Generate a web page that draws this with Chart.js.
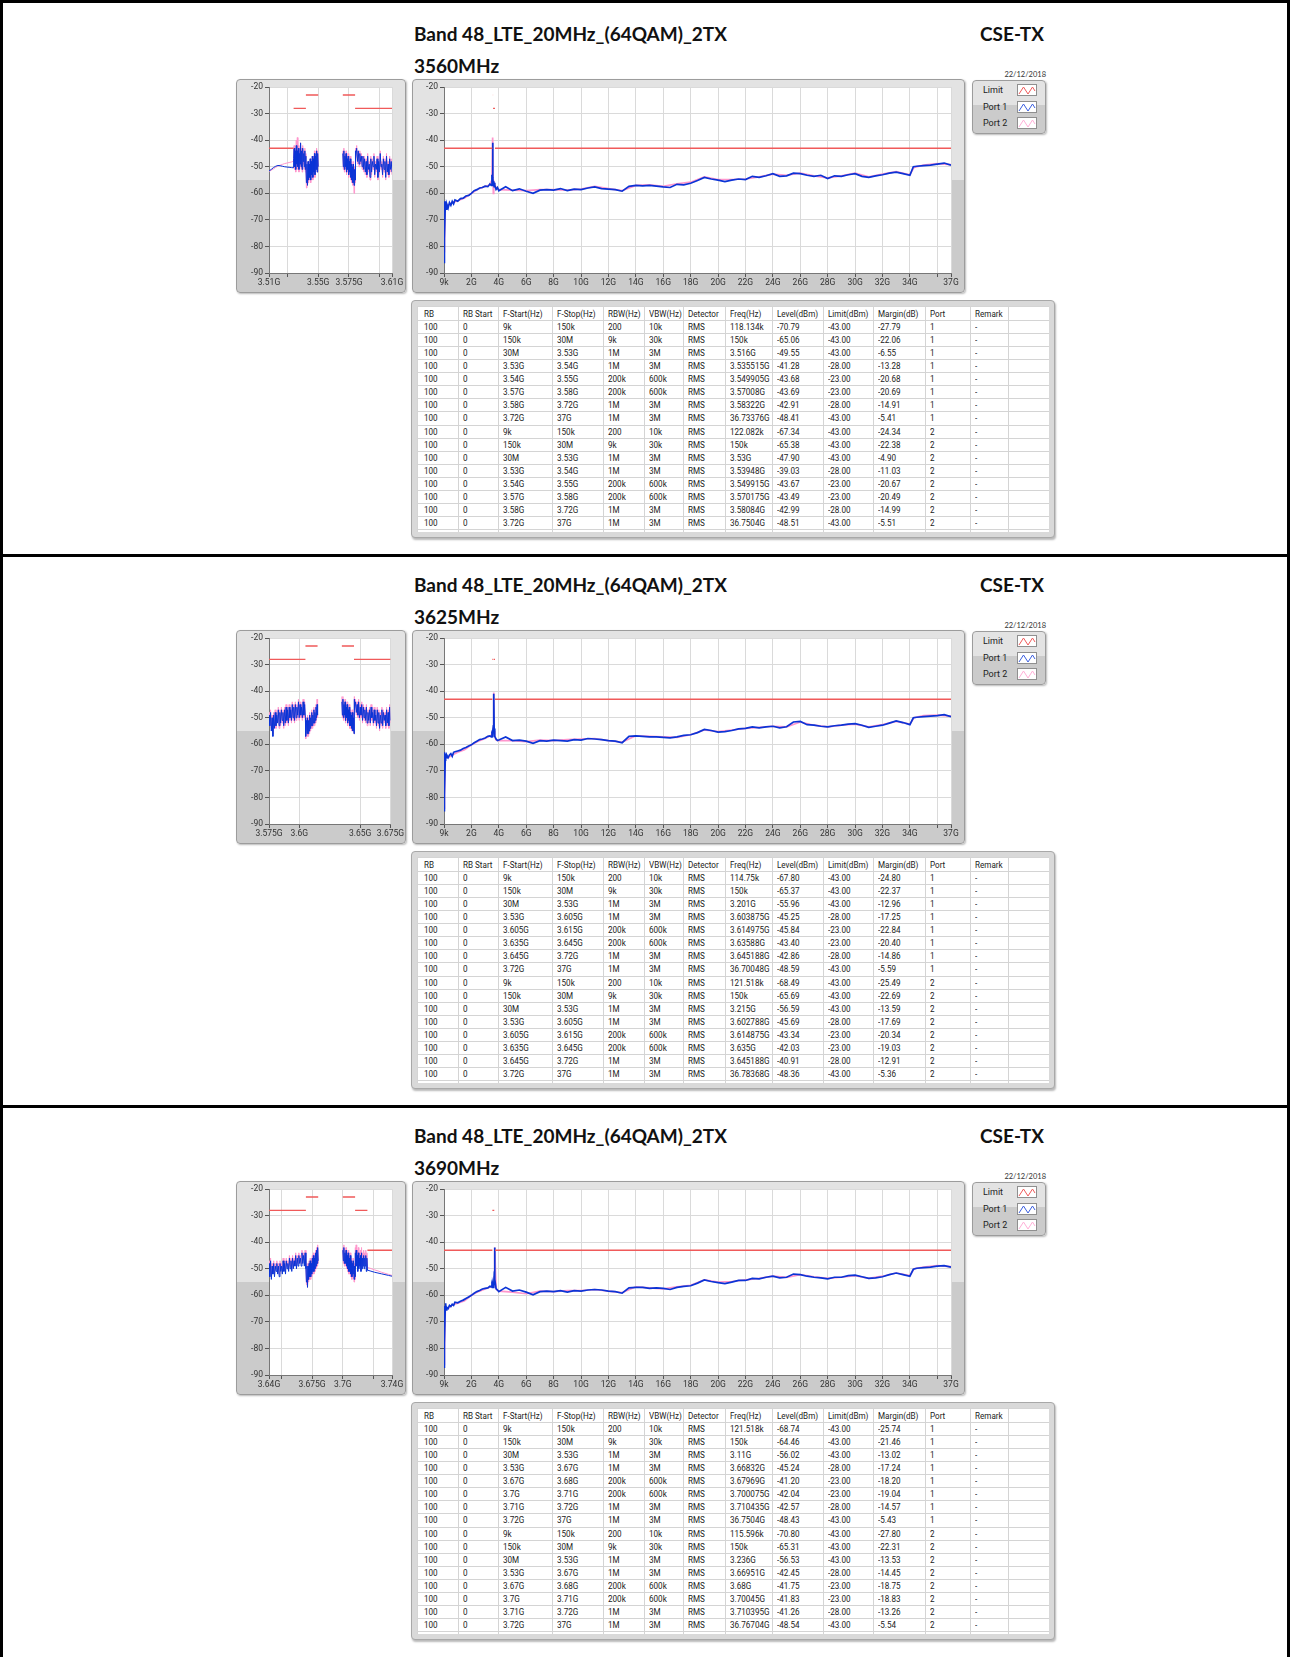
<!DOCTYPE html>
<html>
<head>
<meta charset="utf-8">
<script src="https://cdn.jsdelivr.net/npm/chart.js@4.4.0/dist/chart.umd.min.js"></script>
<style>
html,body{margin:0;padding:0;background:#fff;}
body{width:1290px;height:1657px;position:relative;overflow:hidden;font-family:Roboto,"DejaVu Sans",sans-serif;}
.bar{position:absolute;background:#000;}
.title{position:absolute;font-family:Lato,"Open Sans",sans-serif;font-weight:700;font-size:19px;line-height:19px;color:#111;white-space:nowrap;}
.date{position:absolute;font-family:Lato,sans-serif;font-size:7.5px;line-height:8px;color:#333;white-space:nowrap;text-align:right;width:60px;}
.cpanel{position:absolute;box-sizing:border-box;border:1px solid #9c9c9c;border-radius:4px;
  background:linear-gradient(#e3e3e3 0,#e3e3e3 47%,#cbcbcb 47%,#cbcbcb 100%);box-shadow:1px 1px 2px rgba(0,0,0,.28);}
.cpanel canvas{position:absolute;left:0;top:0;}
.legend{position:absolute;box-sizing:border-box;border:1px solid #9c9c9c;border-radius:4px;
  background:linear-gradient(#e3e3e3 0,#e3e3e3 46%,#cbcbcb 46%,#cbcbcb 100%);box-shadow:1px 1px 2px rgba(0,0,0,.28);}
.legend .lt{position:absolute;left:10px;font-size:9px;line-height:10px;color:#222;}
.legend .sw{position:absolute;left:44px;width:20px;height:12px;box-sizing:border-box;background:#fff;border:1px solid #8f8f8f;}
.tpanel{position:absolute;box-sizing:border-box;border:1px solid #a8a8a8;border-radius:4px;background:#d9d9d9;box-shadow:1px 2px 2px rgba(0,0,0,.28);}
.tin{position:absolute;left:5px;top:5px;width:632px;height:226px;background:#fff;overflow:hidden;}
.tin table{border-collapse:collapse;table-layout:fixed;width:632px;font-size:9px;color:#1b1b1b;}
.tin td{border:1px solid #d4d4d4;padding:0 0 0 4px;line-height:10px;white-space:nowrap;overflow:hidden;}
.tin td span{display:inline-block;transform:scaleX(0.9);transform-origin:0 50%;}
.tin tr{height:13.07px;}
.tin tr.h{height:14px;}
</style>
</head>
<body>
<script>
// ---------------- shared axes ----------------
const Y_TICKS  = [-90,-80,-70,-60,-50,-40,-30,-20];
const Y_LABELS = ["-90","-80","-70","-60","-50","-40","-30","-20"];
const MAIN_TICKS  = [0.000009,2,4,6,8,10,12,14,16,18,20,22,24,26,28,30,32,34,36,37];
const MAIN_LABELS = ["9k","2G","4G","6G","8G","10G","12G","14G","16G","18G","20G","22G","24G","26G","28G","30G","32G","34G","","37G"];

// ---------------- section headings ----------------
const TITLE = "Band 48_LTE_20MHz_(64QAM)_2TX";
const TEST_NAME = "CSE-TX";
const DATE = "22/12/2018";
const SECTION_FREQ = ["3560MHz","3625MHz","3690MHz"];
const LEGEND_NAMES = ["Limit","Port 1","Port 2"];

// ---------------- zoom charts x axes ----------------
const S1_ZOOM_TICKS  = [3.51,3.525,3.55,3.575,3.6,3.61];
const S1_ZOOM_LABELS = ["3.51G","","3.55G","3.575G","","3.61G"];
const S2_ZOOM_TICKS  = [3.575,3.6,3.65,3.675];
const S2_ZOOM_LABELS = ["3.575G","3.6G","3.65G","3.675G"];
const S3_ZOOM_TICKS  = [3.64,3.65,3.675,3.7,3.725,3.74];
const S3_ZOOM_LABELS = ["3.64G","","3.675G","3.7G","","3.74G"];

// ---------------- limit lines [fStart GHz, fStop GHz, dBm] ----------------
const S1_LIMIT = [[0.000009,3.53,-43],[3.53,3.54,-28],[3.54,3.55,-23],[3.57,3.58,-23],[3.58,3.72,-28],[3.72,37,-43]];
const S2_LIMIT = [[0.000009,3.53,-43],[3.53,3.605,-28],[3.605,3.615,-23],[3.635,3.645,-23],[3.645,3.72,-28],[3.72,37,-43]];
const S3_LIMIT = [[0.000009,3.53,-43],[3.53,3.67,-28],[3.67,3.68,-23],[3.70,3.71,-23],[3.71,3.72,-28],[3.72,37,-43]];

// ---------------- full span sweep (GHz) ----------------
const MAIN_F = [0.000009,0.005,0.02,0.04,0.06,0.09,0.12,0.16,0.2,0.3,
 0.4,0.5,0.6,0.7,0.8,1.0,1.2,1.4,1.6,1.8,
 2.0,2.2,2.4,2.6,2.8,3.0,3.2,3.35,3.45,3.5,
 3.53,3.55,3.57,3.6,3.63,3.66,3.69,3.72,3.8,3.9,
 4.0,4.5,5.0,5.5,6.0,6.5,7.0,7.5,8.0,8.5,
 9.0,9.5,10.0,10.5,11.0,11.5,12.0,12.5,13.0,13.5,
 14.0,14.5,15.0,15.5,16.0,16.5,17.0,17.5,18.0,18.5,
 19.0,19.5,20.0,20.5,21.0,21.5,22.0,22.5,23.0,23.5,
 24.0,24.5,25.0,25.5,26.0,26.5,27.0,27.5,28.0,28.5,
 29.0,29.5,30.0,30.5,31.0,31.5,32.0,32.5,33.0,33.5,
 34.0,34.25,34.5,35.0,35.5,36.0,36.5,37.0];
const MAIN_F2 = [0.000009,0.03,0.1,0.3,0.6,1,1.5,2,2.5,3,
 3.3,3.5,3.55,3.6,3.63,3.66,3.7,3.8,4,5,
 6,7,8,9,10,11,12,13,14,15,
 16,17,18,19,20,21,22,23,24,25,
 26,27,28,29,30,31,32,33,34,34.3,
 35,36,37];

const S1_MAIN_P1 = [-86,-66,-84,-63,-77,-65,-63,-66,-64,-65.5,
 -63.5,-64.5,-63,-64,-62.5,-63,-62,-61.8,-61,-60.8,
 -60,-59,-58.6,-58,-57.8,-57.3,-57.5,-56.5,-57,-53,
 -56,-41,-54,-57,-55.5,-57.5,-56,-57,-58.5,-57.8,
 -59,-57.5,-59,-58.3,-59.2,-60,-58.8,-58.6,-58.8,-58.2,
 -59,-58.4,-58.6,-58,-57.6,-58.2,-58.4,-58.6,-59.2,-57.4,
 -57,-57.2,-57,-57.3,-57.6,-57.8,-56.6,-56.8,-56.2,-55.2,
 -54,-54.6,-55,-55.6,-55,-54.6,-54.8,-53.6,-54,-53.4,
 -52.6,-53.6,-53.4,-52.4,-52.6,-53.2,-53.6,-53.2,-54.4,-53.4,
 -53.6,-53,-52.6,-53.6,-54,-53.4,-53,-52.4,-52,-52.6,
 -53.2,-50,-49.8,-49.6,-49.4,-49,-48.6,-49.4];
const S1_MAIN_P2 = [-82,-79,-64,-64.5,-63.5,-62.8,-61.8,-60,-58.4,-57.4,
 -57,-55,-39,-60,-56,-57,-56.5,-58,-58.6,-58.8,
 -59,-58.6,-58.6,-58.8,-58.4,-57.4,-58.2,-59,-57,-56.8,
 -57.4,-56.4,-55.8,-53.8,-54.8,-54.8,-54.6,-53.8,-52.8,-53.2,
 -52.4,-53.4,-54.2,-53.4,-52.4,-53.8,-52.8,-51.8,-53,-50.2,
 -49.4,-48.8,-49.2];

const S2_MAIN_P1 = [-85,-65,-80,-63,-79,-66,-63.5,-65,-64,-65,
 -64,-63.5,-64.5,-63,-62.8,-62.5,-62.2,-61.6,-61.2,-60.6,
 -60.2,-59.4,-58.8,-58.2,-58,-57.6,-57,-56.8,-57.2,-56.5,
 -57,-56,-55,-53,-41,-54,-56,-57,-58,-58.6,
 -58.4,-57.2,-58.6,-58.4,-58.8,-59.6,-58.6,-58.8,-58.4,-58.6,
 -58.8,-58.2,-58.4,-57.8,-58,-58.2,-58.6,-58.8,-59.4,-57,
 -56.8,-57,-57.2,-57.2,-57.4,-57.6,-57.2,-56.6,-56.4,-55.6,
 -54.4,-54.8,-55.4,-55.2,-54.8,-54.2,-54,-53.4,-53.8,-53.4,
 -53.2,-53.8,-53.4,-51.6,-51.4,-52.6,-52.8,-53.2,-53.4,-53,
 -52.8,-52.4,-52.2,-52.8,-53.6,-53.2,-52.8,-52,-51.2,-51.8,
 -52.6,-50,-49.8,-49.6,-49.4,-49.2,-48.8,-49.6];
const S2_MAIN_P2 = [-84,-80,-64,-65,-64,-63,-62,-60.2,-58.8,-57.8,
 -57,-56.4,-55,-54,-40.5,-55,-57,-58.4,-58.6,-58.6,
 -59,-58.4,-58.6,-58.2,-58,-57.8,-58.6,-59.2,-56.8,-57,
 -57.2,-57.4,-56.4,-54.6,-55.2,-54.6,-54,-53.6,-53.2,-53.4,
 -51.6,-52.8,-53.4,-52.8,-52.4,-53.4,-52.6,-51.4,-52.4,-50,
 -49.2,-49,-49.4];

const S3_MAIN_P1 = [-87,-66,-82,-64,-78,-65,-63,-65.5,-64.5,-65,
 -63.8,-64.2,-63.4,-63.8,-62.6,-62.8,-62.2,-61.8,-61.2,-60.6,
 -60,-59.2,-58.6,-58.2,-57.6,-57.4,-57.2,-56.6,-56.8,-56.4,
 -57,-56.6,-56,-57,-56.4,-53,-42,-54,-57.5,-58,
 -58.6,-57,-58.4,-58,-58.8,-59.8,-58.6,-58.4,-58.6,-58.2,
 -58.8,-58.2,-58.4,-58,-57.8,-58,-58.4,-58.6,-59.2,-57.2,
 -57,-57,-57.4,-57.2,-57.4,-57.8,-57,-56.6,-56.4,-55.4,
 -54.2,-54.8,-55.2,-55.6,-55,-54.4,-54.4,-53.6,-53.8,-53.2,
 -52.8,-53.4,-53.2,-52,-52.2,-52.8,-53.2,-53.4,-53.8,-53.2,
 -53.2,-52.6,-52.4,-53,-53.6,-53.4,-53,-52.2,-51.6,-52.2,
 -52.8,-50.2,-49.8,-49.6,-49.4,-49,-48.8,-49.4];
const S3_MAIN_P2 = [-86,-81,-64.5,-65,-63.6,-63,-62,-60,-58.6,-57.6,
 -57,-56.6,-56.4,-56.8,-55.8,-53,-42,-57.6,-58.4,-58.8,
 -59.4,-58.4,-58.6,-58.2,-58.2,-57.8,-58.4,-59,-56.8,-57.2,
 -57.6,-56.8,-56.2,-54.2,-55,-54.8,-54.2,-53.6,-52.8,-53.2,
 -52.2,-53,-53.6,-53.2,-52.6,-53.6,-52.8,-51.6,-52.6,-50,
 -49.4,-48.8,-49.2];

// ---------------- zoom sweeps: [fStart GHz, fStop GHz, levels dBm] ----------------
const S1_ZOOM_P1 = [
 [3.51,3.53,[-51.6,-51.0,-50.3,-49.8,-49.5,-49.6,-49.8,-50.0,-50.1,-50.2,-50.3,-50.4]],
 [3.53,3.54,[-47,-43,-50,-44,-51,-42,-49,-44,-50,-43,-51,-45,-49,-41,-50,-44,-51,-43,-48,-45,-50,-44,-51,-46]],
 [3.54,3.55,[-50,-56,-49,-57,-48,-55,-49,-54,-47,-55,-48,-53,-46,-54,-47,-52,-45,-53,-46,-51,-44,-52,-45,-50]],
 [3.57,3.58,[-45,-50,-44,-51,-46,-50,-45,-52,-47,-51,-46,-53,-48,-52,-47,-54,-49,-55,-50,-56,-49,-57,-51,-55]],
 [3.58,3.61,[-44,-47,-43,-48,-44,-49,-45,-48,-46,-50,-46,-51,-47,-52,-48,-53,-46,-51,-49,-54,-47,-52,-48,-50,
   -46,-53,-49,-51,-47,-54,-48,-52,-45,-50,-49,-53,-47,-51,-48,-54,-46,-52,-49,-53,-47,-51,-48,-52]]];
const S1_ZOOM_P2 = [
 [3.51,3.53,[-51.8,-51.3,-50.8,-50.2,-49.7,-49.4,-49.1,-48.8,-48.6,-48.4,-48.2,-47.9]],
 [3.53,3.54,[-46,-42,-51,-43,-52,-40,-50,-39,-51,-42,-52,-44,-50,-41,-51,-43,-52,-42,-49,-44,-51,-43,-52,-45]],
 [3.54,3.55,[-51,-58,-50,-57,-48,-56,-49,-55,-47,-56,-48,-54,-46,-55,-46,-52,-44,-54,-45,-51,-43,-52,-44,-50]],
 [3.57,3.58,[-44,-51,-43,-52,-45,-51,-44,-53,-46,-52,-45,-54,-47,-53,-46,-55,-48,-56,-49,-57,-48,-60,-50,-56]],
 [3.58,3.61,[-43,-48,-42,-49,-44,-50,-44,-49,-45,-51,-46,-52,-46,-53,-47,-54,-45,-52,-48,-55,-46,-53,-47,-51,
   -45,-54,-48,-52,-46,-55,-47,-53,-44,-51,-48,-54,-46,-52,-47,-55,-45,-53,-48,-54,-46,-52,-47,-53]]];

const S2_ZOOM_P1 = [
 [3.575,3.605,[-49,-53,-48,-55,-50,-57,-49,-54,-48,-53,-49,-52,-47,-53,-48,-52,-47,-51,-48,-53,-47,-52,-46,-51,
   -47,-52,-46,-50,-47,-51,-45,-50,-46,-51,-45,-50,-46,-49,-44,-50,-45,-49,-46,-50,-44,-49,-45,-50]],
 [3.605,3.615,[-52,-57,-51,-56,-50,-56,-51,-55,-49,-54,-50,-53,-48,-53,-49,-52,-47,-52,-48,-51,-46,-50,-45,-49]],
 [3.635,3.645,[-44,-49,-43,-50,-45,-49,-44,-51,-46,-50,-45,-52,-47,-51,-46,-53,-48,-53,-49,-54,-48,-55,-50,-56]],
 [3.645,3.675,[-43,-47,-44,-48,-45,-49,-44,-50,-46,-49,-45,-51,-46,-50,-47,-51,-46,-52,-48,-51,-47,-52,-46,-50,
   -48,-52,-47,-51,-49,-53,-47,-52,-48,-54,-49,-52,-47,-53,-48,-51,-49,-53,-47,-52,-48,-53,-46,-51]]];
const S2_ZOOM_P2 = [
 [3.575,3.605,[-48,-53,-47,-54,-49,-56,-48,-53,-47,-54,-48,-52,-46,-54,-47,-53,-46,-52,-47,-54,-46,-53,-45,-52,
   -46,-53,-45,-51,-46,-52,-44,-51,-45,-52,-44,-51,-45,-50,-43,-51,-44,-50,-45,-51,-43,-50,-44,-51]],
 [3.605,3.615,[-51,-58,-50,-57,-49,-57,-50,-56,-48,-55,-49,-54,-47,-54,-48,-53,-46,-53,-47,-52,-45,-51,-43,-50]],
 [3.635,3.645,[-42,-50,-42,-51,-44,-50,-43,-52,-45,-51,-44,-53,-46,-52,-45,-54,-47,-54,-48,-55,-47,-55,-49,-56]],
 [3.645,3.675,[-42,-48,-43,-49,-44,-50,-43,-51,-45,-50,-44,-52,-45,-51,-46,-52,-45,-53,-47,-52,-46,-53,-45,-51,
   -47,-53,-46,-52,-48,-54,-46,-53,-47,-55,-48,-53,-46,-54,-47,-52,-48,-54,-46,-53,-47,-54,-45,-52]]];

const S3_ZOOM_P1 = [
 [3.64,3.67,[-48,-53,-47,-54,-49,-52,-48,-53,-49,-51,-48,-52,-49,-53,-48,-51,-49,-52,-47,-51,-48,-52,-47,-50,
   -48,-51,-46,-50,-47,-51,-46,-50,-47,-49,-45,-50,-46,-49,-45,-48,-46,-49,-44,-48,-45,-49,-44,-47]],
 [3.67,3.68,[-50,-55,-49,-57,-49,-54,-48,-53,-47,-53,-48,-52,-46,-51,-45,-51,-46,-50,-44,-49,-43,-48,-42,-47]],
 [3.70,3.71,[-43,-47,-42,-48,-44,-48,-43,-49,-45,-50,-44,-51,-46,-51,-45,-52,-47,-53,-48,-52,-47,-54,-49,-53]],
 [3.71,3.72,[-44,-50,-43,-49,-45,-51,-44,-50,-46,-49,-45,-51,-44,-50,-46,-49,-45,-50,-46,-49,-45,-51,-46,-50]],
 [3.72,3.74,[-50.5,-50.9,-51.3,-51.6,-51.9,-52.2,-52.5,-52.8]]];
const S3_ZOOM_P2 = [
 [3.64,3.67,[-47,-52,-46,-53,-48,-51,-47,-52,-48,-50,-47,-51,-48,-52,-47,-50,-48,-51,-46,-50,-47,-51,-46,-49,
   -47,-50,-45,-49,-46,-50,-45,-49,-46,-48,-44,-49,-45,-48,-44,-47,-45,-48,-43,-47,-44,-48,-43,-46]],
 [3.67,3.68,[-49,-56,-48,-57,-48,-55,-47,-54,-46,-54,-47,-53,-45,-52,-44,-52,-45,-51,-43,-50,-42,-49,-41,-48]],
 [3.70,3.71,[-42,-48,-41,-49,-43,-49,-42,-50,-44,-51,-43,-52,-45,-52,-44,-53,-46,-54,-47,-53,-46,-55,-48,-54]],
 [3.71,3.72,[-42,-48,-41,-47,-43,-49,-42,-48,-44,-47,-43,-49,-42,-48,-44,-47,-43,-48,-44,-47,-43,-49,-44,-48]],
 [3.72,3.74,[-49.5,-49.9,-50.4,-50.8,-51.3,-51.7,-52.1,-52.5]]];

// ---------------- result tables ----------------
const TABLE_HEAD = ["RB","RB Start","F-Start(Hz)","F-Stop(Hz)","RBW(Hz)","VBW(Hz)","Detector","Freq(Hz)","Level(dBm)","Limit(dBm)","Margin(dB)","Port","Remark",""];
const TABLE_RB = "100", TABLE_RB_START = "0", TABLE_DETECTOR = "RMS", TABLE_REMARK = "-";
// [F-Start, F-Stop, RBW, VBW, Freq, Level, Limit, Margin, Port]
const S1_ROWS = [
 ["9k","150k","200","10k","118.134k","-70.79","-43.00","-27.79","1"],
 ["150k","30M","9k","30k","150k","-65.06","-43.00","-22.06","1"],
 ["30M","3.53G","1M","3M","3.516G","-49.55","-43.00","-6.55","1"],
 ["3.53G","3.54G","1M","3M","3.535515G","-41.28","-28.00","-13.28","1"],
 ["3.54G","3.55G","200k","600k","3.549905G","-43.68","-23.00","-20.68","1"],
 ["3.57G","3.58G","200k","600k","3.57008G","-43.69","-23.00","-20.69","1"],
 ["3.58G","3.72G","1M","3M","3.58322G","-42.91","-28.00","-14.91","1"],
 ["3.72G","37G","1M","3M","36.73376G","-48.41","-43.00","-5.41","1"],
 ["9k","150k","200","10k","122.082k","-67.34","-43.00","-24.34","2"],
 ["150k","30M","9k","30k","150k","-65.38","-43.00","-22.38","2"],
 ["30M","3.53G","1M","3M","3.53G","-47.90","-43.00","-4.90","2"],
 ["3.53G","3.54G","1M","3M","3.53948G","-39.03","-28.00","-11.03","2"],
 ["3.54G","3.55G","200k","600k","3.549915G","-43.67","-23.00","-20.67","2"],
 ["3.57G","3.58G","200k","600k","3.570175G","-43.49","-23.00","-20.49","2"],
 ["3.58G","3.72G","1M","3M","3.58084G","-42.99","-28.00","-14.99","2"],
 ["3.72G","37G","1M","3M","36.7504G","-48.51","-43.00","-5.51","2"]];
const S2_ROWS = [
 ["9k","150k","200","10k","114.75k","-67.80","-43.00","-24.80","1"],
 ["150k","30M","9k","30k","150k","-65.37","-43.00","-22.37","1"],
 ["30M","3.53G","1M","3M","3.201G","-55.96","-43.00","-12.96","1"],
 ["3.53G","3.605G","1M","3M","3.603875G","-45.25","-28.00","-17.25","1"],
 ["3.605G","3.615G","200k","600k","3.614975G","-45.84","-23.00","-22.84","1"],
 ["3.635G","3.645G","200k","600k","3.63588G","-43.40","-23.00","-20.40","1"],
 ["3.645G","3.72G","1M","3M","3.645188G","-42.86","-28.00","-14.86","1"],
 ["3.72G","37G","1M","3M","36.70048G","-48.59","-43.00","-5.59","1"],
 ["9k","150k","200","10k","121.518k","-68.49","-43.00","-25.49","2"],
 ["150k","30M","9k","30k","150k","-65.69","-43.00","-22.69","2"],
 ["30M","3.53G","1M","3M","3.215G","-56.59","-43.00","-13.59","2"],
 ["3.53G","3.605G","1M","3M","3.602788G","-45.69","-28.00","-17.69","2"],
 ["3.605G","3.615G","200k","600k","3.614875G","-43.34","-23.00","-20.34","2"],
 ["3.635G","3.645G","200k","600k","3.635G","-42.03","-23.00","-19.03","2"],
 ["3.645G","3.72G","1M","3M","3.645188G","-40.91","-28.00","-12.91","2"],
 ["3.72G","37G","1M","3M","36.78368G","-48.36","-43.00","-5.36","2"]];
const S3_ROWS = [
 ["9k","150k","200","10k","121.518k","-68.74","-43.00","-25.74","1"],
 ["150k","30M","9k","30k","150k","-64.46","-43.00","-21.46","1"],
 ["30M","3.53G","1M","3M","3.11G","-56.02","-43.00","-13.02","1"],
 ["3.53G","3.67G","1M","3M","3.66832G","-45.24","-28.00","-17.24","1"],
 ["3.67G","3.68G","200k","600k","3.67969G","-41.20","-23.00","-18.20","1"],
 ["3.7G","3.71G","200k","600k","3.700075G","-42.04","-23.00","-19.04","1"],
 ["3.71G","3.72G","1M","3M","3.710435G","-42.57","-28.00","-14.57","1"],
 ["3.72G","37G","1M","3M","36.7504G","-48.43","-43.00","-5.43","1"],
 ["9k","150k","200","10k","115.596k","-70.80","-43.00","-27.80","2"],
 ["150k","30M","9k","30k","150k","-65.31","-43.00","-22.31","2"],
 ["30M","3.53G","1M","3M","3.236G","-56.53","-43.00","-13.53","2"],
 ["3.53G","3.67G","1M","3M","3.66951G","-42.45","-28.00","-14.45","2"],
 ["3.67G","3.68G","200k","600k","3.68G","-41.75","-23.00","-18.75","2"],
 ["3.7G","3.71G","200k","600k","3.70045G","-41.83","-23.00","-18.83","2"],
 ["3.71G","3.72G","1M","3M","3.710395G","-41.26","-28.00","-13.26","2"],
 ["3.72G","37G","1M","3M","36.76704G","-48.54","-43.00","-5.54","2"]];

// ================= rendering =================
const COLORS = {limit:"#f05a5a", p1:"#0b34d6", p2:"#ff96cc"};
const TICK_FONT = {family:'Roboto, "DejaVu Sans", sans-serif', size:8.5};
const COL_W = [41,40,54,51,41,39,42,47,51,50,52,45,38,41];

const SECTIONS = [
 {freq:SECTION_FREQ[0], zt:S1_ZOOM_TICKS, zl:S1_ZOOM_LABELS, lim:S1_LIMIT, m1:S1_MAIN_P1, m2:S1_MAIN_P2, z1:S1_ZOOM_P1, z2:S1_ZOOM_P2, rows:S1_ROWS},
 {freq:SECTION_FREQ[1], zt:S2_ZOOM_TICKS, zl:S2_ZOOM_LABELS, lim:S2_LIMIT, m1:S2_MAIN_P1, m2:S2_MAIN_P2, z1:S2_ZOOM_P1, z2:S2_ZOOM_P2, rows:S2_ROWS},
 {freq:SECTION_FREQ[2], zt:S3_ZOOM_TICKS, zl:S3_ZOOM_LABELS, lim:S3_LIMIT, m1:S3_MAIN_P1, m2:S3_MAIN_P2, z1:S3_ZOOM_P1, z2:S3_ZOOM_P2, rows:S3_ROWS}
];
const OFFS = [0,551,1102];

function el(tag, cls, css, parent){
  const d = document.createElement(tag);
  if (cls) d.className = cls;
  if (css) Object.assign(d.style, css);
  (parent||document.body).appendChild(d);
  return d;
}
function px(v){ return v + "px"; }

// page frame
el("div","bar",{left:"0px",top:"0px",width:"1290px",height:"3px"});
el("div","bar",{left:"0px",top:"0px",width:"3px",height:"1657px"});
el("div","bar",{left:"1287px",top:"0px",width:"3px",height:"1657px"});
el("div","bar",{left:"0px",top:"554px",width:"1290px",height:"3px"});
el("div","bar",{left:"0px",top:"1105px",width:"1290px",height:"3px"});

function limitData(segs){
  const d = [];
  segs.forEach(([a,b,v],i)=>{ if(i) d.push({x:a,y:null}); d.push({x:a,y:v},{x:b,y:v}); });
  return d;
}
function sweepData(segs){
  const d = []; let prev = null;
  segs.forEach(([a,b,vals])=>{
    if (prev !== null && a > prev + 1e-9) d.push({x:(a+prev)/2,y:null});
    const n = vals.length;
    vals.forEach((v,k)=>d.push({x:a+(b-a)*k/(n-1), y:v}));
    prev = b;
  });
  return d;
}
function pairs(xs, ys){ return xs.map((x,i)=>({x:x,y:ys[i]})); }
function labelFor(ticks, labels, v){
  for (let i=0;i<ticks.length;i++) if (Math.abs(ticks[i]-v) < 1e-7) return labels[i];
  return "";
}

const plotBg = {
  id:"plotBg",
  beforeDraw(c){
    const a = c.chartArea, ctx = c.ctx;
    ctx.save(); ctx.fillStyle = "#ffffff";
    ctx.fillRect(a.left, a.top, a.right-a.left, a.bottom-a.top);
    ctx.restore();
  }
};

function makeChart(parent, w, h, yW, xMin, xMax, xTicks, xLabels, datasets){
  const cv = document.createElement("canvas");
  cv.width = w; cv.height = h; cv.style.width = px(w); cv.style.height = px(h);
  parent.appendChild(cv);
  return new Chart(cv, {
    type:"line",
    data:{datasets},
    plugins:[plotBg],
    options:{
      responsive:false, animation:false, devicePixelRatio:1,
      layout:{padding:{top:6,right:13,left:0,bottom:0}},
      elements:{point:{radius:0}, line:{tension:0}},
      plugins:{legend:{display:false}, tooltip:{enabled:false}},
      scales:{
        x:{type:"linear", min:xMin, max:xMax,
           afterBuildTicks:s=>{ s.ticks = xTicks.map(v=>({value:v})); },
           afterFit:s=>{ s.height = 19; },
           ticks:{autoSkip:false, maxRotation:0, minRotation:0, padding:1, color:"#333", font:TICK_FONT,
                  callback:v=>labelFor(xTicks,xLabels,v)},
           grid:{color:"#dadada", tickColor:"#555", tickLength:4},
           border:{color:"#777"}},
        y:{type:"linear", min:-90, max:-20,
           afterBuildTicks:s=>{ s.ticks = Y_TICKS.map(v=>({value:v})); },
           afterFit:s=>{ s.width = yW; },
           ticks:{padding:2, color:"#333", font:TICK_FONT, callback:v=>labelFor(Y_TICKS,Y_LABELS,v)},
           grid:{color:"#dadada", tickColor:"#555", tickLength:4},
           border:{color:"#777"}}
      }
    }
  });
}

function dsets(lim, p1, p2, w1){
  return [
    {label:LEGEND_NAMES[0], data:lim, borderColor:COLORS.limit, borderWidth:1.4, spanGaps:false, order:0, pointRadius:0},
    {label:LEGEND_NAMES[1], data:p1, borderColor:COLORS.p1, borderWidth:w1, spanGaps:false, order:1, pointRadius:0},
    {label:LEGEND_NAMES[2], data:p2, borderColor:COLORS.p2, borderWidth:w1, spanGaps:false, order:2, pointRadius:0}
  ];
}

function swatch(color){
  return '<svg width="18" height="10" style="position:absolute;left:0;top:0"><polyline points="1,9 5.5,2 10,9 14.5,2 17,6" fill="none" stroke="'+color+'" stroke-width="1"/></svg>';
}

SECTIONS.forEach((S, si)=>{
  const o = OFFS[si];
  // headings
  const t = el("div","title",{left:"414px", top:px(24+o)}); t.textContent = TITLE;
  const c = el("div","title",{left:"944px", top:px(24+o), width:"100px", textAlign:"right"}); c.textContent = TEST_NAME;
  const f = el("div","title",{left:"414px", top:px(56+o)}); f.textContent = S.freq;
  const d = el("div","date",{left:"986px", top:px(71+o)}); d.textContent = DATE;

  // zoom chart
  const zp = el("div","cpanel",{left:"236px", top:px(79+o), width:"170px", height:"214px"});
  const zt = S.zt;
  makeChart(zp, 168, 212, 32, zt[0], zt[zt.length-1], zt, S.zl,
    dsets(limitData(S.lim), sweepData(S.z1), sweepData(S.z2), 1));

  // full-span chart
  const mp = el("div","cpanel",{left:"412px", top:px(79+o), width:"553px", height:"214px"});
  makeChart(mp, 551, 212, 31, 0.000009, 37, MAIN_TICKS, MAIN_LABELS,
    dsets(limitData(S.lim), pairs(MAIN_F, S.m1), pairs(MAIN_F2, S.m2), 1.7));

  // legend
  const lg = el("div","legend",{left:"972px", top:px(80+o), width:"74px", height:"54px"});
  const cols = [COLORS.limit, "#3a5ee0", "#ffb0d8"];
  [9,26,42].forEach((cy,i)=>{
    const tx = el("div","lt",{top:px(cy-5)}, lg); tx.textContent = LEGEND_NAMES[i];
    const sw = el("div","sw",{top:px(cy-6)}, lg); sw.innerHTML = swatch(cols[i]);
  });

  // table
  const tp = el("div","tpanel",{left:"411px", top:px(300+o), width:"644px", height:"238px"});
  const tin = el("div","tin",null,tp);
  let html = "<table><colgroup>" + COL_W.map(w=>'<col style="width:'+w+'px">').join("") + "</colgroup>";
  html += '<tr class="h">' + TABLE_HEAD.map((h,i)=>'<td'+(i===0?' style="padding-left:6px"':'')+'><span>'+h+'</span></td>').join("") + "</tr>";
  S.rows.forEach(r=>{
    const full = [TABLE_RB, TABLE_RB_START, r[0], r[1], r[2], r[3], TABLE_DETECTOR, r[4], r[5], r[6], r[7], r[8], TABLE_REMARK, ""];
    html += "<tr>" + full.map((v,i)=>'<td'+(i===0?' style="padding-left:6px"':'')+'><span>'+v+'</span></td>').join("") + "</tr>";
  });
  html += "<tr>" + TABLE_HEAD.map(()=>"<td></td>").join("") + "</tr></table>";
  tin.innerHTML = html;
});
</script>
</body>
</html>
